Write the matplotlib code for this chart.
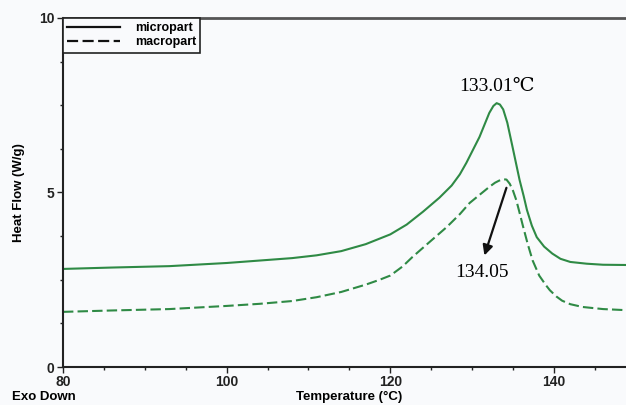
import numpy as np
import matplotlib
matplotlib.use('Agg')
import matplotlib.pyplot as plt
from matplotlib.ticker import MultipleLocator

# values
temp_micro = [80, 86, 93, 100, 104, 108, 111, 114, 117, 120, 122, 124, 126, 127.5,
              128.5, 129.3, 130.9, 132.1, 132.6, 133.0, 133.4, 133.8, 134.3, 134.9,
              135.4, 135.8, 136.3, 136.7, 137.3, 137.9, 138.8, 139.8, 140.8, 142,
              144, 146, 150]
flow_micro = [2.81, 2.85, 2.89, 2.98, 3.05, 3.12, 3.20, 3.32, 3.52, 3.80, 4.08, 4.45,
              4.85, 5.20, 5.52, 5.85, 6.59, 7.28, 7.48, 7.56, 7.52, 7.38, 7.00, 6.35,
              5.80, 5.36, 4.90, 4.50, 4.05, 3.72, 3.45, 3.25, 3.10, 3.01,
              2.96, 2.93, 2.92]

temp_macro = [80, 86, 93, 100, 104, 108, 111, 114, 117, 118.7, 120, 121.5, 122.7,
              124.5, 126.9, 128.5, 129.7, 131, 132.1, 132.8, 133.3, 133.8, 134.2,
              134.6, 135.0, 135.4, 135.8, 136.2, 136.8, 137.4, 138.2, 139.0, 139.5,
              140.3, 141, 142, 143.5, 146, 148.7, 150]
flow_macro = [1.58, 1.62, 1.66, 1.75, 1.81, 1.89, 2.00, 2.15, 2.36, 2.50, 2.62, 2.88,
              3.15, 3.52, 4.01, 4.38, 4.70, 4.95, 5.16, 5.28, 5.34, 5.38, 5.37,
              5.25, 5.05, 4.78, 4.42, 4.05, 3.52, 3.05, 2.62, 2.35, 2.20,
              2.02, 1.90, 1.80, 1.72, 1.66, 1.63, 1.62]

peak_label_micro = "133.01\u2103"
peak_label_macro = "134.05"

bg = '#f9fafc'
green = '#2f8a45'
sans = 'Liberation Sans'

fig = plt.figure(figsize=(6.26, 4.05), dpi=100, facecolor=bg)
ax = fig.add_axes([0.1006, 0.0938, 0.915, 0.8618], facecolor=bg)

ax.plot(temp_micro, flow_micro, color=green, lw=1.5, label='micropart')
ax.plot(temp_macro, flow_macro, color=green, lw=1.5, ls=(0, (5, 2)), label='macropart')

ax.set_xlim(80, 150)
ax.set_ylim(0, 10)
ax.xaxis.set_major_locator(MultipleLocator(20))
ax.xaxis.set_minor_locator(MultipleLocator(5))
ax.yaxis.set_major_locator(MultipleLocator(5))
ax.yaxis.set_minor_locator(MultipleLocator(1.25))
ax.tick_params(which='both', direction='out', colors='#222222', width=1)
ax.tick_params(which='major', length=4, labelsize=10, pad=2)
ax.tick_params(which='minor', length=2.5)
for lab in ax.get_xticklabels() + ax.get_yticklabels():
    lab.set_fontweight('bold')
    lab.set_family(sans)

for s in ['left', 'bottom']:
    ax.spines[s].set_color('#222222')
    ax.spines[s].set_linewidth(1.5)
ax.spines['top'].set_color('#555555')
ax.spines['top'].set_linewidth(2)
ax.spines['right'].set_visible(False)

ax.set_ylabel('Heat Flow (W/g)', fontsize=9.5, fontweight='bold', family=sans, labelpad=10)
ax.set_xlabel('Temperature (\u00b0C)', fontsize=9.5, fontweight='bold', family=sans, labelpad=1)
fig.text(0.019, 0.012, 'Exo Down', fontsize=9.5, fontweight='bold', family=sans)

leg = ax.legend(loc='upper left', bbox_to_anchor=(0, 1), frameon=True, fancybox=False,
                prop={'family': sans, 'weight': 'bold', 'size': 9},
                handlelength=4.2, borderaxespad=0, borderpad=0.35, labelspacing=0.15,
                handletextpad=1.2)
for line in leg.get_lines():
    line.set_color('#111111')
    line.set_linewidth(1.6)
leg.get_frame().set_edgecolor('#222222')
leg.get_frame().set_linewidth(1.2)
leg.get_frame().set_facecolor(bg)
leg.get_frame().set_alpha(1)

serif = ['Liberation Serif', 'DejaVu Serif']
ax.text(133.0, 7.8, peak_label_micro, ha='center', va='bottom', fontsize=14, family=serif)
ax.text(131.2, 2.72, peak_label_macro, ha='center', va='center', fontsize=14, family=serif)
ax.annotate('', xy=(131.4, 3.12), xytext=(134.3, 5.21),
            arrowprops=dict(arrowstyle='-|>', color='#111111', lw=1.6, mutation_scale=15))

fig.savefig('out.png', dpi=100, facecolor=bg)
